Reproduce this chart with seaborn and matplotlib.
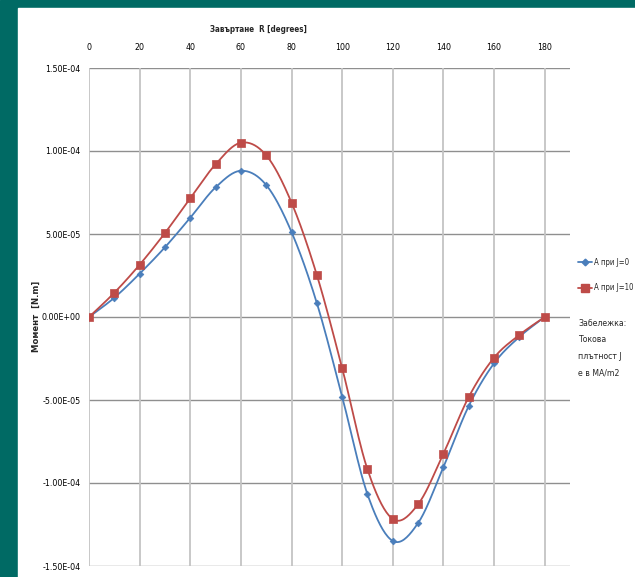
import numpy as np
import pandas as pd
import matplotlib
matplotlib.use("Agg")
import matplotlib.pyplot as plt
import seaborn as sns
from matplotlib.patches import Rectangle
from matplotlib.lines import Line2D
from matplotlib import font_manager

angles = [0, 10, 20, 30, 40, 50, 60, 70, 80, 90, 100, 110, 120, 130, 140, 150, 160, 170, 180]
moment_j0 = [0.0, 1.16e-5, 2.61e-5, 4.2e-5, 5.98e-5, 7.81e-5, 8.81e-5, 7.95e-5, 5.12e-5, 8.4e-6,
             -4.8e-5, -1.068e-4, -1.349e-4, -1.241e-4, -9.04e-5, -5.36e-5, -2.79e-5, -1.2e-5, 0.0]
moment_j10 = [0.0, 1.46e-5, 3.15e-5, 5.06e-5, 7.15e-5, 9.2e-5, 1.05e-4, 9.74e-5, 6.89e-5, 2.53e-5,
              -3.08e-5, -9.18e-5, -1.217e-4, -1.128e-4, -8.23e-5, -4.82e-5, -2.45e-5, -1.08e-5, 0.0]
series_names = ["А при J=0", "А при J=10"]
x_ticks = [0, 20, 40, 60, 80, 100, 120, 140, 160, 180]
y_ticks = [1.5e-4, 1.0e-4, 5.0e-5, 0.0, -5.0e-5, -1.0e-4, -1.5e-4]
y_tick_labels = ["1.50E-04", "1.00E-04", "5.00E-05", "0.00E+00", "-5.00E-05", "-1.00E-04", "-1.50E-04"]

sns.set_theme(style="white")
names = {f.name for f in font_manager.fontManager.ttflist}
fam = 'Liberation Sans Narrow' if 'Liberation Sans Narrow' in names else 'DejaVu Sans'
plt.rcParams['font.family'] = [fam, 'DejaVu Sans']
plt.rcParams['font.stretch'] = 'condensed'

colors = ["#4a7ebb", "#be4b48"]
markers = ["D", "s"]
msizes = [3.4, 5.2]

fig = plt.figure(figsize=(6.35, 5.77), dpi=100)
# background
fig.patches.append(Rectangle((0, 0), 1, 1, transform=fig.transFigure, color="#006a64", zorder=-10))
fig.patches.append(Rectangle((18/635, 0), 1 - 18/635, 1 - 8/577, transform=fig.transFigure,
                             color="white", zorder=-9))

ax = fig.add_axes([89/635, 1 - 566/577, 481/635, (566 - 68)/577])
ax.set_facecolor("none")

df = pd.DataFrame({"angle": angles * 2,
                   "moment": moment_j0 + moment_j10,
                   "series": [series_names[0]] * len(angles) + [series_names[1]] * len(angles)})


def smooth(xs, ys, n=20):
    xs = np.asarray(xs, float); ys = np.asarray(ys, float)
    px = np.concatenate([[xs[0]], xs, [xs[-1]]])
    py = np.concatenate([[ys[0]], ys, [ys[-1]]])
    ox, oy = [], []
    t = np.linspace(0, 1, n, endpoint=False)
    for i in range(1, len(px) - 2):
        p0 = np.array([px[i-1], py[i-1]]); p1 = np.array([px[i], py[i]])
        p2 = np.array([px[i+1], py[i+1]]); p3 = np.array([px[i+2], py[i+2]])
        c1 = p1 + (p2 - p0) / 6.0
        c2 = p2 - (p3 - p1) / 6.0
        for tt in t:
            b = ((1-tt)**3) * p1 + 3*((1-tt)**2)*tt*c1 + 3*(1-tt)*tt**2*c2 + tt**3*p2
            ox.append(b[0]); oy.append(b[1])
    ox.append(xs[-1]); oy.append(ys[-1])
    return np.array(ox), np.array(oy)


for i, name in enumerate(series_names):
    sub = df[df["series"] == name]
    sx, sy = smooth(sub["angle"], sub["moment"])
    ax.plot(sx, sy, color=colors[i], lw=1.3, zorder=3)
    sns.scatterplot(data=sub, x="angle", y="moment", marker=markers[i], s=msizes[i]**2,
                    color=colors[i], edgecolor=colors[i], linewidth=0.5, ax=ax, zorder=4, legend=False)

ax.set_xlim(0, 190)
ax.set_ylim(-1.5e-4, 1.5e-4)
ax.set_xticks(x_ticks)
ax.set_yticks(y_ticks)
ax.set_yticklabels(y_tick_labels)
ax.xaxis.tick_top()
ax.tick_params(axis="both", labelsize=6.3, length=0, pad=6, colors="black")
ax.tick_params(axis="x", pad=11.5)
for y in y_ticks:
    ax.axhline(y, color="#8f8f8f", lw=1.0, zorder=1)
for x in x_ticks:
    ax.axvline(x, ymin=0, ymax=1, color="#c4c4c4", lw=1.3, zorder=1)
for s in ax.spines.values():
    s.set_visible(False)
ax.set_xlabel("")
ax.set_ylabel("")

fig.text(258/635, 1 - 29/577, "Завъртане  R [degrees]", fontsize=5.8, fontweight="bold",
         ha="center", va="center")
fig.text(36/635, 1 - 316/577, "Момент  [N.m]", fontsize=6.8, fontweight="bold",
         ha="center", va="center", rotation=90)

# legend
handles = [Line2D([0], [0], color=colors[i], marker=markers[i], markersize=msizes[i], lw=1.3)
           for i in range(2)]
fig.legend(handles, series_names, loc="upper left", bbox_to_anchor=(578/635, 1 - 258/577),
           frameon=False, fontsize=5.6, handlelength=1.8, handletextpad=0.25, labelspacing=2.1,
           borderaxespad=0, borderpad=0)

fig.text(578/635, 1 - 319/577, "Забележка:\nТокова\nплътност J\nе в MA/m2", fontsize=6.2,
         ha="left", va="top", linespacing=2.05)

fig.savefig("out.png", dpi=100)
